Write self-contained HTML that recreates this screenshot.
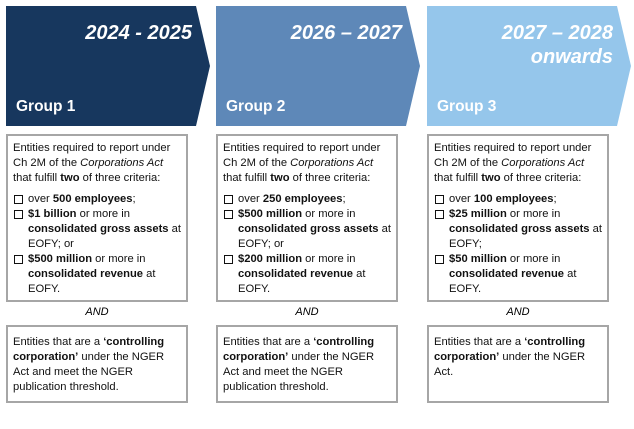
<!DOCTYPE html>
<html><head><style>
body{margin:0;width:634px;height:429px;background:#fff;font-family:"Liberation Sans",sans-serif;position:relative;overflow:hidden}
.arr{position:absolute;top:6px;height:120px}
.yr{position:absolute;right:16px;top:15px;color:#fff;font-weight:bold;font-style:italic;font-size:20px;text-align:right;line-height:24px}
.gp{position:absolute;left:10px;top:92px;color:#fff;font-weight:bold;font-size:15.5px}
.box{position:absolute;width:182px;border:2px solid #a6a6a6;box-sizing:border-box;padding:5px 5px;font-size:11.2px;line-height:15px;color:#111}
.box p{margin:0}
ul{margin:6px 0 0;padding:0;list-style:none}
li{padding-left:15px;position:relative}
li:before{content:"";position:absolute;left:1px;top:3px;width:7px;height:7px;border:1px solid #111}
.and{position:absolute;width:186px;text-align:center;font-style:italic;font-size:11px;top:306px}
.b2{padding-top:8px}
</style></head><body>
<svg width="634" height="140" style="position:absolute;left:0;top:0">
<polygon points="6,6 196,6 210,66 196,126 6,126" fill="#17375e"/>
<polygon points="216,6 406,6 420,66 406,126 216,126" fill="#5e88b8"/>
<polygon points="427,6 617,6 631,66 617,126 427,126" fill="#95c6eb"/>
</svg>
<div class="arr" style="left:6px;width:204px"><div class="yr" style="right:18px">2024 - 2025</div><div class="gp">Group 1</div></div>
<div class="arr" style="left:216px;width:204px"><div class="yr" style="right:18px">2026 – 2027</div><div class="gp">Group 2</div></div>
<div class="arr" style="left:427px;width:204px"><div class="yr" style="right:18px">2027 – 2028<br>onwards</div><div class="gp">Group 3</div></div>

<div class="box" style="left:6px;top:134px;height:168px"><p>Entities required to report under Ch 2M of the <i>Corporations Act</i> that fulfill <b>two</b> of three criteria:</p><ul><li>over <b>500 employees</b>;</li><li><b>$1 billion</b> or more in <b>consolidated gross assets</b> at EOFY; or</li><li><b>$500 million</b> or more in <b>consolidated revenue</b> at EOFY.</li></ul></div>
<div class="box" style="left:216px;top:134px;height:168px"><p>Entities required to report under Ch 2M of the <i>Corporations Act</i> that fulfill <b>two</b> of three criteria:</p><ul><li>over <b>250 employees</b>;</li><li><b>$500 million</b> or more in <b>consolidated gross assets</b> at EOFY; or</li><li><b>$200 million</b> or more in <b>consolidated revenue</b> at EOFY.</li></ul></div>
<div class="box" style="left:427px;top:134px;height:168px"><p>Entities required to report under Ch 2M of the <i>Corporations Act</i> that fulfill <b>two</b> of three criteria:</p><ul><li>over <b>100 employees</b>;</li><li><b>$25 million</b> or more in <b>consolidated gross assets</b> at EOFY;</li><li><b>$50 million</b> or more in <b>consolidated revenue</b> at EOFY.</li></ul></div>

<div class="and" style="left:4px">AND</div>
<div class="and" style="left:214px">AND</div>
<div class="and" style="left:425px">AND</div>

<div class="box b2" style="left:6px;top:325px;height:78px"><p>Entities that are a <b>‘controlling corporation’</b> under the NGER Act and meet the NGER publication threshold.</p></div>
<div class="box b2" style="left:216px;top:325px;height:78px"><p>Entities that are a <b>‘controlling corporation’</b> under the NGER Act and meet the NGER publication threshold.</p></div>
<div class="box b2" style="left:427px;top:325px;height:78px"><p>Entities that are a <b>‘controlling corporation’</b> under the NGER Act.</p></div>
</body></html>
